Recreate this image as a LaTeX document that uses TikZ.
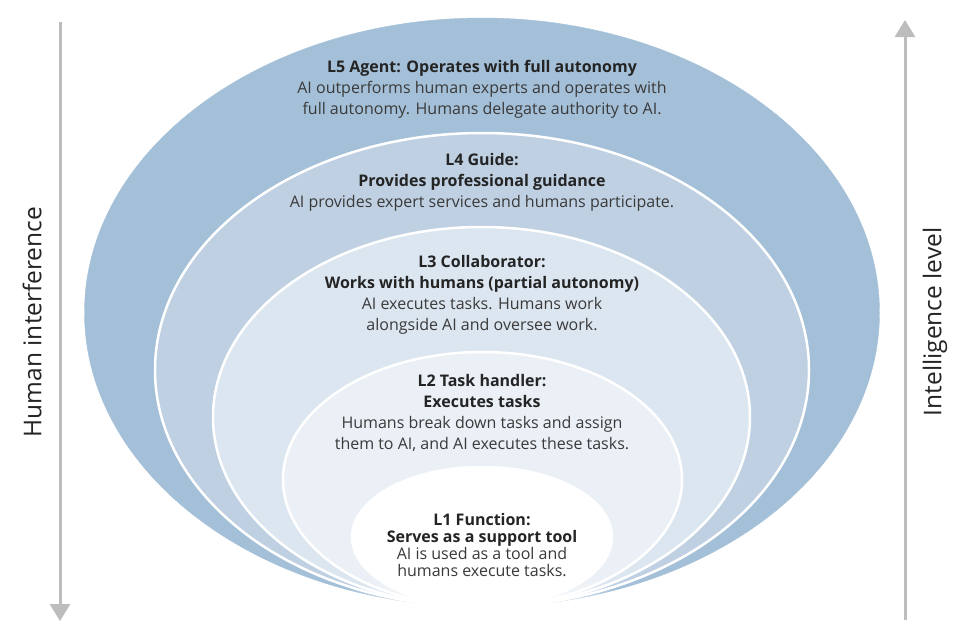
\documentclass[tikz,border=0pt]{standalone}
\usepackage{fontspec}
\setmainfont{Open Sans}
\usetikzlibrary{arrows.meta, fadings}
\definecolor{lvlfive}{HTML}{A4C0D8}
\definecolor{lvlfour}{HTML}{BED0E2}
\definecolor{lvlthree}{HTML}{DCE6F0}
\definecolor{lvltwo}{HTML}{EAF0F6}
\definecolor{axisgray}{HTML}{BDBDBD}
\definecolor{titletext}{HTML}{242424}
\definecolor{bodytext}{HTML}{3A3A3A}
\tikzfading[name=bottomfade, inner color=transparent!0, outer color=transparent!100]
\tikzset{
  ring/.style={draw=white, line width=2.5pt},
  axisarrow/.style={-{Triangle[width=20pt, length=17pt]}, line width=3pt, draw=axisgray},
  level/.style={
    align=center, inner sep=0pt, text=bodytext,
    font=\fontsize{16}{21}\selectfont
  },
  smalllevel/.style={level, font=\fontsize{16}{17}\selectfont},
  axislabel/.style={
    rotate=90, inner sep=0pt, text=titletext,
    font=\fontsize{24.5}{28}\selectfont
  },
}
\newcommand{\lvltitle}[1]{{\color{titletext}\bfseries #1}}

\begin{document}
\begin{tikzpicture}[x=1pt, y=-1pt]
\useasboundingbox (0,0) rectangle (962,627);

% --- Nested levels ---
\path[fill=lvlfive, draw=lvlfive] (482,312.5) ellipse [x radius=397.5pt, y radius=294.5pt];
\path[fill=lvlfour, ring] (482,370) ellipse [x radius=327pt, y radius=237pt];
\path[fill=lvlthree, ring] (481.5,417) ellipse [x radius=268.5pt, y radius=190pt];
\path[fill=lvltwo, ring] (482.5,479.5) ellipse [x radius=199.5pt, y radius=127.5pt];
\path[fill=white, ring] (482,537) ellipse [x radius=130pt, y radius=70pt];
\fill[white, path fading=bottomfade] (482,607) ellipse [x radius=150pt, y radius=45pt];

% --- Level texts ---
\node[level] (lfive) at (482,89)
  {\lvltitle{L5 Agent: Operates with full autonomy}\\
   AI outperforms human experts and operates with\\
   full autonomy. Humans delegate authority to AI.};
\node[level] (lfour) at (482,182.5)
  {\lvltitle{L4 Guide:}\\
   \lvltitle{Provides professional guidance}\\
   AI provides expert services and humans participate.};
\node[level] (lthree) at (482,295)
  {\lvltitle{L3 Collaborator:}\\
   \lvltitle{Works with humans (partial autonomy)}\\
   AI executes tasks. Humans work\\
   alongside AI and oversee work.};
\node[level] (ltwo) at (482,412.5)
  {\lvltitle{L2 Task handler:}\\
   \lvltitle{Executes tasks}\\
   Humans break down tasks and assign\\
   them to AI, and AI executes these tasks.};
\node[smalllevel] (lone) at (482,545.5)
  {\lvltitle{L1 Function:}\\
   \lvltitle{Serves as a support tool}\\
   AI is used as a tool and\\
   humans execute tasks.};

% --- Side axes ---
\coordinate (humtop) at (60,22);
\coordinate (humbot) at (60,621);
\coordinate (inttop) at (905,20);
\coordinate (intbot) at (905,620);
\draw[axisarrow] (humtop) -- (humbot);
\draw[axisarrow] (intbot) -- (inttop);
\node[axislabel] (humlabel) at (32,322) {Human interference};
\node[axislabel] (intlabel) at (935,322) {Intelligence level};

\end{tikzpicture}
\end{document}
